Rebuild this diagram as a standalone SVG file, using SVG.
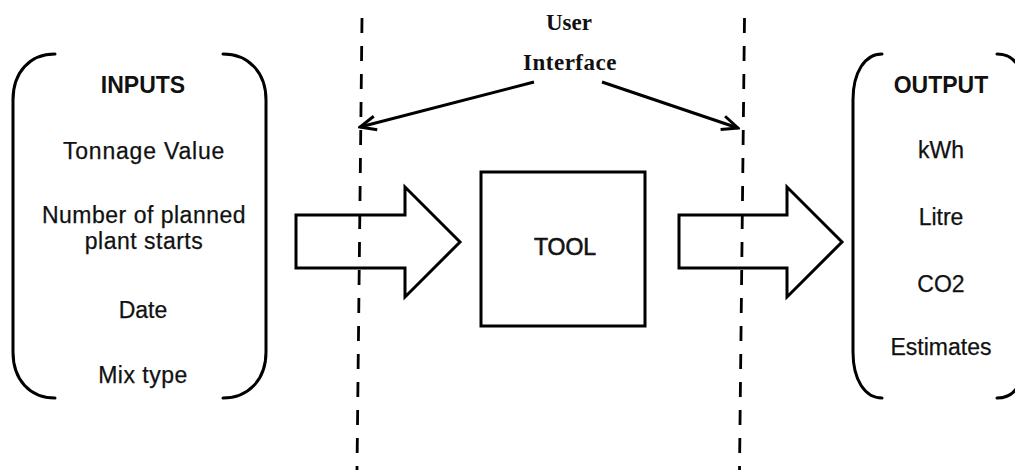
<svg xmlns="http://www.w3.org/2000/svg" width="1015" height="470" viewBox="0 0 1015 470">
<style>
.br{fill:none;stroke:#000;stroke-width:3;stroke-linecap:round}
.t{font-family:"Liberation Sans",Arial,sans-serif;font-size:23px;fill:#111;text-anchor:middle;stroke:#111;stroke-width:0.25}
.b{font-weight:bold;stroke-width:0}
.ui{font-family:"Liberation Serif","Times New Roman",serif;font-size:23px;font-weight:bold;fill:#111;text-anchor:middle}
.dash{fill:none;stroke:#000;stroke-width:2.8;stroke-dasharray:15 13}
.ln{fill:none;stroke:#000;stroke-width:3}
.blk{fill:none;stroke:#000;stroke-width:3;stroke-linejoin:miter}
</style>
<defs>
<marker id="open" viewBox="0 0 20 20" refX="18" refY="10" markerWidth="20" markerHeight="20" markerUnits="userSpaceOnUse" orient="auto">
<path d="M2,3 L18,10 L2,17" fill="none" stroke="#000" stroke-width="3"/>
</marker>
</defs>
<rect width="1015" height="470" fill="#fff"/>
<g id="inputs">
<path class="br" d="M55,54 C30,54 13,72 13,100 L13,352 C13,380 30,398 55,398"/>
<path class="br" d="M223,54 C248,54 266,72 266,100 L266,352 C266,380 248,398 223,398"/>
<text class="t b" x="143" y="93">INPUTS</text>
<text class="t" x="144" y="159" letter-spacing="0.8">Tonnage Value</text>
<text class="t" x="144" y="223" letter-spacing="0.5">Number of planned</text>
<text class="t" x="144" y="249" letter-spacing="0.5">plant starts</text>
<text class="t" x="143" y="318">Date</text>
<text class="t" x="143" y="383" letter-spacing="0.5">Mix type</text>
</g>
<g id="output">
<path class="br" d="M882,54 C865,54 853,72 853,100 L853,352 C853,380 865,398 882,398"/>
<path class="br" d="M997,54 C1008,54 1016,60 1020,70"/>
<path class="br" d="M997,398 C1008,398 1016,392 1020,382"/>
<text class="t b" x="941" y="93">OUTPUT</text>
<text class="t" x="941" y="158">kWh</text>
<text class="t" x="941" y="225">Litre</text>
<text class="t" x="941" y="292">CO2</text>
<text class="t" x="941" y="355">Estimates</text>
</g>
<g id="tool">
<rect x="481" y="172" width="164" height="154" class="ln"/>
<text class="t" x="565" y="255" style="stroke-width:0.6">TOOL</text>
</g>
<g id="user-interface">
<text class="ui" x="569" y="30">User</text>
<text class="ui" x="570" y="70" letter-spacing="0.5">Interface</text>
</g>
<g id="connectors">
<path class="dash" d="M362,18 L357,470"/>
<path class="dash" d="M744.5,18 L739.5,470"/>
<path class="blk" d="M296,215 L405,215 L405,187 L460,242 L405,297 L405,268 L296,268 Z"/>
<path class="blk" d="M679,215 L787,215 L787,187 L842,242 L787,297 L787,268 L679,268 Z"/>
<path class="ln" d="M534,82 L360,127" marker-end="url(#open)"/>
<path class="ln" d="M602,82 L738,128" marker-end="url(#open)"/>
</g>
</svg>
